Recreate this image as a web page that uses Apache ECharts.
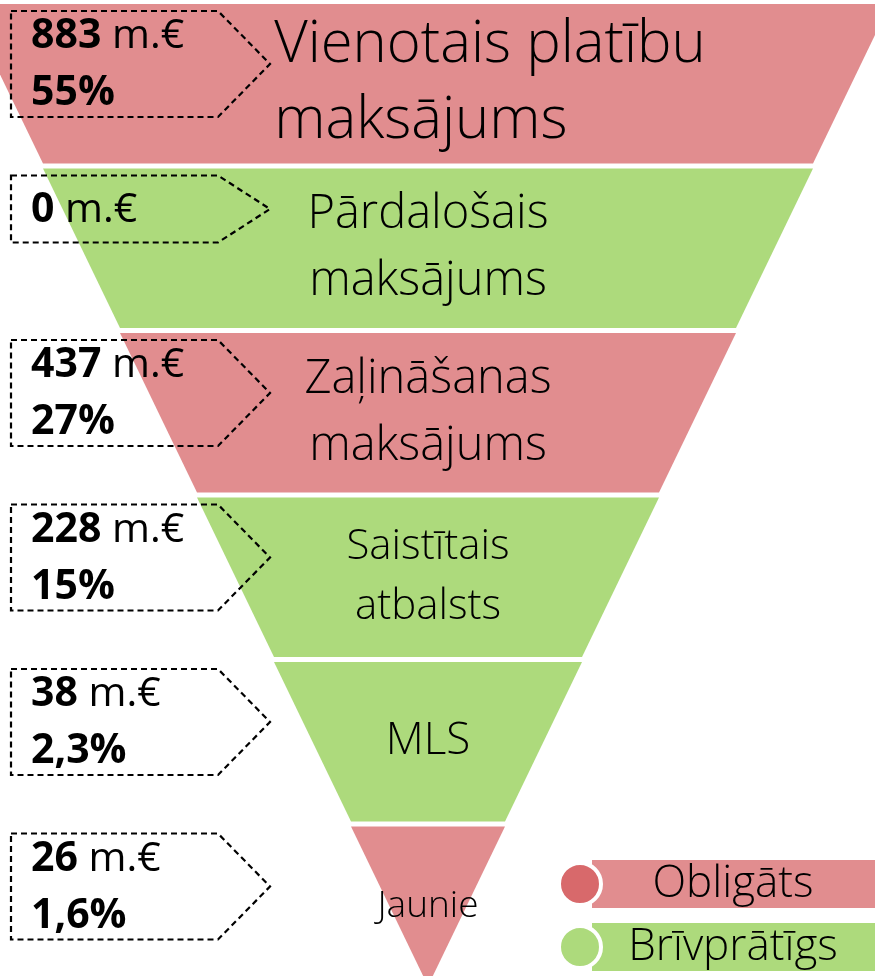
<!DOCTYPE html>
<html>
<head>
<meta charset="utf-8">
<script src="https://cdn.jsdelivr.net/npm/echarts@6/dist/echarts.min.js"></script>
<style>
  html, body { margin: 0; padding: 0; background: #fff; }
  #main { width: 875px; height: 976px; }
</style>
</head>
<body>
<div id="main"></div>
<script>
// funnel stages, top to bottom
const stages = ['Vienotais platību\nmaksājums', 'Pārdalošais\nmaksājums', 'Zaļināšanas\nmaksājums', 'Saistītais\natbalsts', 'MLS', 'Jaunie'];
const levels = [6, 5, 4, 3, 2, 1]; // step width of each funnel band
const amounts = [883, 0, 437, 228, 38, 26]; // m.€
const shares = ['55%', '', '27%', '15%', '2,3%', '1,6%'];
const kinds = ['Obligāts', 'Brīvprātīgs', 'Obligāts', 'Brīvprātīgs', 'Brīvprātīgs', 'Obligāts'];
const legendNames = ['Obligāts', 'Brīvprātīgs'];

const fillColor = { 'Obligāts': '#E18D8F', 'Brīvprātīgs': '#ADDA7C' };
const dotColor = { 'Obligāts': '#D8696B', 'Brīvprātīgs': '#ADDA7C' };
const labelSize = [58, 47, 47, 42, 44, 37];
const FONT = '"Open Sans", "Noto Sans", sans-serif';

// funnel geometry (shared with the callouts)
const TOP = 4, GAP = 5, BAND = 159.5;

const chart = echarts.init(document.getElementById('main'), null, { renderer: 'canvas' });

const funnelData = stages.map(function (name, i) {
  const item = {
    name: name,
    value: levels[i],
    itemStyle: { color: fillColor[kinds[i]] },
    label: { fontSize: labelSize[i], lineHeight: Math.round(labelSize[i] * 1.42) }
  };
  if (i === 0) {
    // first band: text block pushed right, lines left aligned
    item.label.padding = [0, 0, 0, 124];
    item.label.formatter = function (p) {
      return p.name.split('\n').map(function (s) { return '{l|' + s + '}'; }).join('\n');
    };
    item.label.rich = { l: { align: 'left', fontSize: 58, lineHeight: 76, fontFamily: FONT, fontWeight: 300, color: '#000' } };
  }
  return item;
});

// dashed arrow callouts on the left
const elements = [];
stages.forEach(function (s, i) {
  const t = TOP + i * (BAND + GAP) + 7;
  const h = shares[i] ? 106 : 67;
  const L = 11, S = 218, T = 270;
  elements.push({
    type: 'polygon',
    shape: { points: [[L, t], [S, t], [T, t + h / 2], [S, t + h], [L, t + h]] },
    style: { fill: null, stroke: '#000', lineWidth: 2.2, lineDash: [6, 4] },
    z: 10
  });
  let txt = '{b|' + amounts[i] + '}{r| m.€}';
  if (shares[i]) txt += '\n{b|' + shares[i] + '}';
  elements.push({
    type: 'text',
    x: L + 20,
    y: t + h / 2 + 1,
    z: 11,
    style: {
      text: txt,
      verticalAlign: 'middle',
      align: 'left',
      rich: {
        b: { fontFamily: FONT, fontWeight: 'bold', fontSize: 41, lineHeight: 57, fill: '#000' },
        r: { fontFamily: FONT, fontWeight: 'normal', fontSize: 41, lineHeight: 57, fill: '#000' }
      }
    }
  });
});

// legend bottom right
legendNames.forEach(function (name, k) {
  const cy = 884 + k * 63;
  elements.push({
    type: 'rect',
    shape: { x: 592, y: cy - 24, width: 283, height: 48 },
    style: { fill: fillColor[name] },
    z: 10
  });
  elements.push({
    type: 'circle',
    shape: { cx: 580, cy: cy, r: 21 },
    style: { fill: dotColor[name], stroke: '#fff', lineWidth: 4 },
    z: 11
  });
  elements.push({
    type: 'text',
    x: 733,
    y: cy,
    z: 12,
    style: { text: name, align: 'center', verticalAlign: 'middle', fontFamily: FONT, fontWeight: 300, fontSize: 44, fill: '#000' }
  });
});

const option = {
  backgroundColor: '#ffffff',
  animation: false,
  series: [{
    type: 'funnel',
    sort: 'none',
    left: -34,
    top: TOP,
    width: 924,
    height: BAND * 6 + GAP * 5,
    min: 0,
    max: 6,
    minSize: '0%',
    maxSize: '100%',
    gap: GAP,
    itemStyle: { borderWidth: 0 },
    label: {
      show: true,
      position: 'inside',
      color: '#000',
      fontFamily: FONT,
      fontWeight: 300
    },
    labelLine: { show: false },
    emphasis: { disabled: true },
    data: funnelData
  }],
  graphic: { elements: elements }
};

chart.setOption(option);
</script>
</body>
</html>
